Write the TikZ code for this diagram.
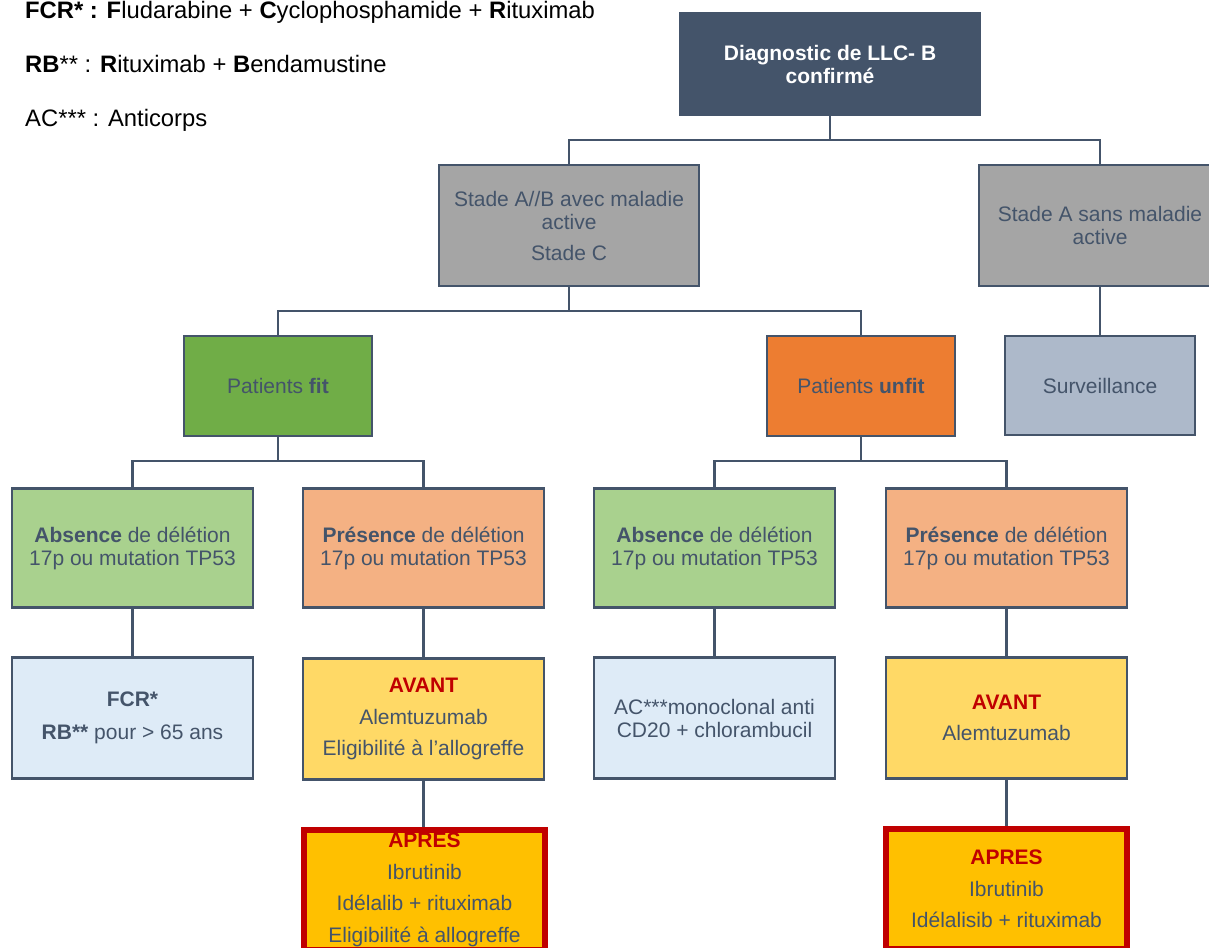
\documentclass[tikz,border=0pt]{standalone}
\usepackage{fontspec}
\setmainfont{Liberation Sans}
\definecolor{edge}{HTML}{44546A}
\definecolor{txt}{HTML}{44546A}
\definecolor{grayfill}{HTML}{A5A5A5}
\definecolor{fitfill}{HTML}{70AD47}
\definecolor{unfitfill}{HTML}{ED7D31}
\definecolor{absfill}{HTML}{A9D18E}
\definecolor{presfill}{HTML}{F4B183}
\definecolor{bluefill}{HTML}{DEEBF7}
\definecolor{survfill}{HTML}{ADB9CA}
\definecolor{avantfill}{HTML}{FFD966}
\definecolor{apresfill}{HTML}{FFC000}
\definecolor{redc}{HTML}{C00000}
\tikzset{
  box/.style={draw=edge, line width=2.5pt, align=center, text=txt, inner sep=0pt,
    font=\fontsize{21}{23}\selectfont},
  topbox/.style={box, fill=edge, text=white, font=\fontsize{21}{23}\selectfont\bfseries,
    minimum width=300pt, minimum height=102pt},
  stagebox/.style={box, fill=grayfill, minimum height=121pt},
  patbox/.style={box, minimum width=188pt, minimum height=100pt},
  genebox/.style={box, minimum width=241pt, minimum height=119pt},
  treatbox/.style={box, minimum width=241pt, minimum height=121pt},
  apresbox/.style={box, draw=redc, line width=6.5pt, fill=apresfill, minimum width=241pt, minimum height=120pt},
  conn/.style={draw=edge, line width=2.5pt},
  legend/.style={anchor=base west, inner sep=0pt, text=black, font=\fontsize{23.8}{25}\selectfont},
}
\begin{document}
\begin{tikzpicture}[x=1pt,y=-1pt]
\useasboundingbox (0,0) rectangle (1209,947);
\clip (0,0) rectangle (1209,947);
\fill[white] (0,0) rectangle (1209,947);

% legend
\node[legend] (l1) at (25,19) {\textbf{FCR* : F}ludarabine + \textbf{C}yclophosphamide + \textbf{R}ituximab};
\node[legend] (l2) at (25,73) {\textbf{RB}** : \textbf{R}ituximab + \textbf{B}endamustine};
\node[legend] (l3) at (25,127) {AC*** : Anticorps};

% boxes
\node[topbox] (top) at (830,64) {Diagnostic de LLC- B\\confirmé};
\node[stagebox, minimum width=260pt] (ab) at (569,225.5) {Stade A//B avec maladie\\active\\[8pt]Stade C};
\node[stagebox, minimum width=242pt] (sa) at (1100,225.5) {Stade A sans maladie\\active};
\node[box, fill=survfill, minimum width=190pt, minimum height=99pt] (surv) at (1100,385.5) {Surveillance};
\node[patbox, fill=fitfill] (fit) at (278,386) {Patients \textbf{fit}};
\node[patbox, fill=unfitfill] (unfit) at (861,386) {Patients \textbf{unfit}};

\node[genebox, fill=absfill] (abs1) at (132.5,548) {\textbf{Absence} de délétion\\17p ou mutation TP53};
\node[genebox, fill=presfill] (pres1) at (423.5,548) {\textbf{Présence} de délétion\\17p ou mutation TP53};
\node[genebox, fill=absfill] (abs2) at (714.5,548) {\textbf{Absence} de délétion\\17p ou mutation TP53};
\node[genebox, fill=presfill] (pres2) at (1006.5,548) {\textbf{Présence} de délétion\\17p ou mutation TP53};

\node[treatbox, fill=bluefill] (fcr) at (132.5,718) {\textbf{FCR*}\\[10pt]\textbf{RB**} pour > 65 ans};
\node[treatbox, fill=avantfill] (av1) at (423.5,719) {\textcolor{redc}{\textbf{AVANT}}\\[8.5pt]Alemtuzumab\\[8.5pt]Eligibilité à l'allogreffe};
\node[treatbox, fill=bluefill] (ac) at (714.5,718) {AC***monoclonal anti\\CD20 + chlorambucil};
\node[treatbox, fill=avantfill] (av2) at (1006.5,718) {\textcolor{redc}{\textbf{AVANT}}\\[8.5pt]Alemtuzumab};

\node[apresbox] (ap1) at (424.5,890) {\textcolor{redc}{\textbf{APRES}}\\[8.5pt]Ibrutinib\\[8.5pt]Idélalib + rituximab\\[8.5pt]Eligibilité à allogreffe};
\node[apresbox] (ap2) at (1006.5,889) {\textcolor{redc}{\textbf{APRES}}\\[8.5pt]Ibrutinib\\[8.5pt]Idélalisib + rituximab};

% junctions
\coordinate (j1) at (830,140);
\coordinate (j2) at (569,311);
\coordinate (j3) at (278,461);
\coordinate (j4) at (861,461);

% connectors
\draw[conn] (top.south) -- (j1) -| (ab.north);
\draw[conn] (j1) -| (sa.north);
\draw[conn] (sa.south) -- (surv.north);
\draw[conn] (ab.south) -- (j2) -| (fit.north);
\draw[conn] (j2) -| (unfit.north);
\draw[conn] (fit.south) -- (j3) -| (abs1.north);
\draw[conn] (j3) -| (pres1.north);
\draw[conn] (unfit.south) -- (j4) -| (abs2.north);
\draw[conn] (j4) -| (pres2.north);
\draw[conn] (abs1.south) -- (fcr.north);
\draw[conn] (pres1.south) -- (av1.north);
\draw[conn] (abs2.south) -- (ac.north);
\draw[conn] (pres2.south) -- (av2.north);
\draw[conn] (av1.south) -- (av1.south |- ap1.north);
\draw[conn] (av2.south) -- (ap2.north);
\end{tikzpicture}
\end{document}
